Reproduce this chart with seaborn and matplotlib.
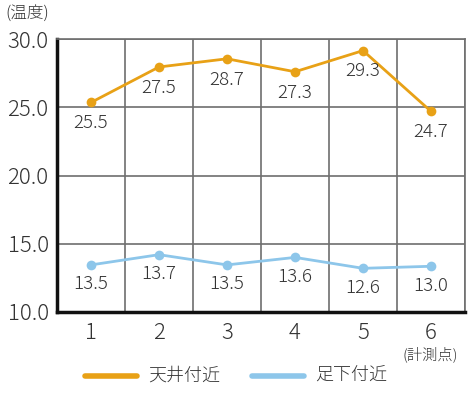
import numpy as np
import pandas as pd
import matplotlib
matplotlib.use("Agg")
import matplotlib.pyplot as plt
import seaborn as sns

# ── données ──────────────────────────────────────────────
points = [1, 2, 3, 4, 5, 6]
ceiling = [25.35, 27.95, 28.55, 27.6, 29.15, 24.7]
ceiling_labels = ["25.5", "27.5", "28.7", "27.3", "29.3", "24.7"]
floor = [13.45, 14.2, 13.45, 14.0, 13.2, 13.35]
floor_labels = ["13.5", "13.7", "13.5", "13.6", "12.6", "13.0"]
series_names = ["天井付近", "足下付近"]
y_ticks = [10.0, 15.0, 20.0, 25.0, 30.0]

ORANGE = "#E8A116"
BLUE = "#8DC6EA"
TXT = "#333333"
GRID = "#6e6e6e"

sns.set_style("white")
plt.rcParams["font.family"] = ["Noto Sans CJK JP", "DejaVu Sans"]
plt.rcParams["font.weight"] = "light"

df = pd.DataFrame({
    "point": points * 2,
    "temp": ceiling + floor,
    "series": [series_names[0]] * 6 + [series_names[1]] * 6,
})

fig = plt.figure(figsize=(4.72, 3.94), dpi=100)
ax = fig.add_axes([57 / 472, 1 - 312 / 394, 408 / 472, 273 / 394])

sns.lineplot(
    data=df, x="point", y="temp", hue="series",
    palette=[ORANGE, BLUE], marker="o", markersize=7,
    markeredgewidth=0, linewidth=2.0, legend=False, ax=ax,
)

for x, y, lbl in zip(points, ceiling, ceiling_labels):
    ax.annotate(lbl, (x, y), xytext=(0, -15), textcoords="offset points",
                ha="center", va="center", fontsize=13.5, color=TXT)
for x, y, lbl in zip(points, floor, floor_labels):
    ax.annotate(lbl, (x, y), xytext=(0, -14), textcoords="offset points",
                ha="center", va="center", fontsize=13.5, color=TXT)

ax.set_xlim(0.5, 6.5)
ax.set_ylim(10, 30)
ax.set_xticks(points)
ax.set_xticklabels([str(p) for p in points])
ax.set_xticks(np.arange(0.5, 7, 1), minor=True)
ax.set_yticks(y_ticks)
ax.set_yticklabels([f"{v:.1f}" for v in y_ticks])
ax.tick_params(axis="both", which="both", length=0, labelsize=16,
               labelcolor=TXT)
ax.tick_params(axis="x", pad=7)
ax.tick_params(axis="y", pad=6)

ax.grid(True, which="minor", axis="x", color=GRID, linewidth=1.2)
ax.grid(True, which="major", axis="y", color=GRID, linewidth=1.2)
ax.grid(False, which="major", axis="x")
ax.set_axisbelow(True)

for side in ["top", "right"]:
    ax.spines[side].set_color(GRID)
    ax.spines[side].set_linewidth(1.2)
for side in ["left", "bottom"]:
    ax.spines[side].set_color("#111111")
    ax.spines[side].set_linewidth(2.5)

ax.set_xlabel("")
ax.set_ylabel("")

fig.text(5 / 472, 1 - 13 / 394, "(温度)", fontsize=12, color=TXT,
         ha="left", va="center")
fig.text(430 / 472, 1 - 354 / 394, "(計測点)", fontsize=11, color=TXT,
         ha="center", va="center")

# légende manuelle
for x0, x1, col, name in [(85, 137, ORANGE, series_names[0]),
                          (252, 304, BLUE, series_names[1])]:
    fig.add_artist(plt.Line2D([x0 / 472, x1 / 472], [1 - 376 / 394] * 2,
                              color=col, linewidth=4,
                              solid_capstyle="round"))
    fig.text((x1 + 11) / 472, 1 - 376 / 394, name, fontsize=13,
             color=TXT, ha="left", va="center")

fig.savefig("out.png", dpi=100)
